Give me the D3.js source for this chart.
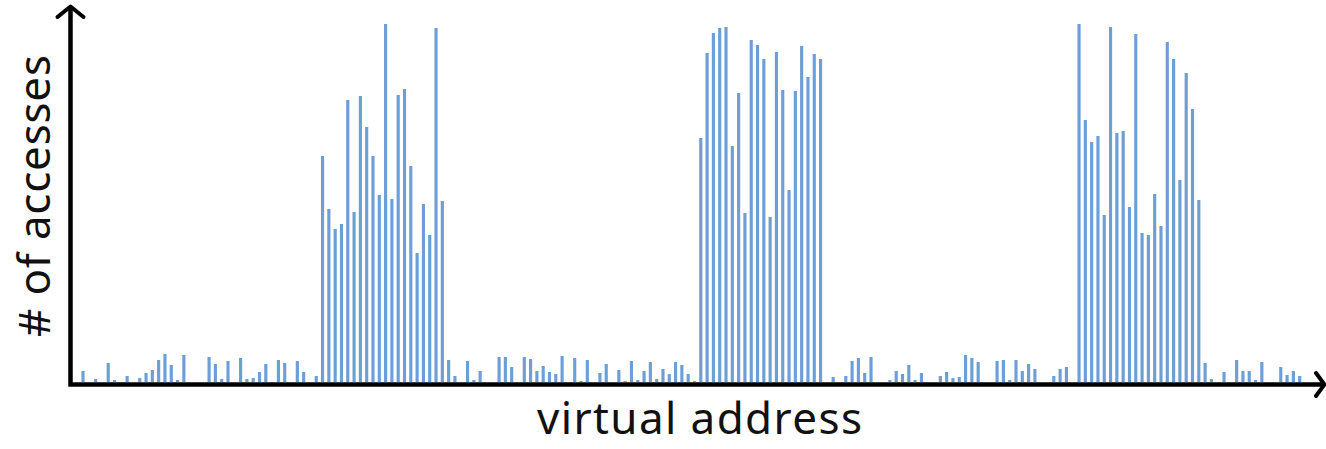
<!DOCTYPE html>
<html lang="en">
<head>
    <meta charset="UTF-8">
    <title>Accesses per virtual address</title>
    <script src="https://cdnjs.cloudflare.com/ajax/libs/d3/7.8.5/d3.min.js"></script>
    <style>
        body { margin: 0; background: #fff; }
        .axis-line { stroke: #000; stroke-width: 4.5; fill: none; stroke-linecap: butt; }
        .arrow { stroke: #000; stroke-width: 4; fill: none; stroke-linecap: round; stroke-linejoin: round; }
        .label { font-family: "Noto Sans", "Open Sans", sans-serif; font-size: 44px; fill: #111; }
    </style>
</head>
<body>
<div id="chart"></div>
<script>
    // access counts per address slot (pixel heights)
    const accesses = [
        11, 0, 3, 0, 19, 2, 0, 6, 0, 4, 9, 12, 22, 28, 17, 2, 27, 0, 0, 0,
        25, 18, 3, 21, 0, 24, 3, 4, 10, 18, 0, 22, 19, 0, 21, 10, 0, 6,
        226, 173, 153, 158, 282, 170, 286, 255, 226, 187, 358, 183, 287, 293, 216, 129, 178, 147, 354, 181,
        22, 6, 0, 21, 2, 11, 0, 0, 25, 25, 15, 0, 25, 23, 11, 16, 10, 8, 26, 0,
        24, 1, 22, 0, 9, 18, 0, 12, 1, 21, 2, 11, 20, 3, 13, 8, 20, 17, 8, 1,
        244, 329, 349, 354, 355, 236, 289, 169, 342, 337, 323, 165, 330, 292, 192, 291, 336, 305, 328, 323,
        0, 5, 0, 6, 21, 24, 9, 25, 0, 0, 2, 11, 8, 17, 2, 9, 0, 0, 6, 10,
        4, 5, 27, 24, 20, 0, 0, 21, 22, 2, 22, 11, 18, 13, 0, 0, 6, 13, 15, 0,
        358, 262, 240, 246, 167, 355, 249, 251, 175, 348, 149, 147, 188, 156, 340, 323, 202, 309, 273, 182,
        19, 3, 0, 10, 0, 22, 11, 11, 2, 20, 0, 0, 15, 7, 11, 6
    ];
    const addresses = d3.range(accesses.length);
    const xTitle = "virtual address";
    const yTitle = "# of accesses";

    const width = 1326, height = 449;
    const originX = 70.5, baseY = 384.5;

    const svg = d3.select("#chart")
        .append("svg")
        .attr("width", width)
        .attr("height", height);

    const x = d3.scaleBand()
        .domain(addresses)
        .range([79.85, 79.85 + 6.304 * addresses.length])
        .paddingInner(0.5)
        .paddingOuter(0.25);

    const y = d3.scaleLinear()
        .domain([0, 360])
        .range([382, 22]);

    // bars
    svg.selectAll(".bar")
        .data(addresses)
        .enter()
        .append("rect")
        .attr("class", "bar")
        .attr("x", d => x(d))
        .attr("width", x.bandwidth())
        .attr("y", d => y(accesses[d]))
        .attr("height", d => y(0) - y(accesses[d]))
        .attr("fill", "#6c9fd8");

    // axes with arrow heads
    svg.append("path")
        .attr("class", "axis-line")
        .attr("d", `M${originX},${baseY + 2.25}V7 M${originX - 2.25},${baseY}H1324`);

    svg.append("path")
        .attr("class", "arrow")
        .attr("d", `M${originX - 13},17 L${originX},6.5 L${originX + 13},17`);

    svg.append("path")
        .attr("class", "arrow")
        .attr("d", `M1316,373 L1324.5,${baseY} L1316,396`);

    // titles (stretched to the width they take in the original)
    svg.append("text")
        .attr("class", "label")
        .attr("x", 699.5)
        .attr("y", 434)
        .attr("text-anchor", "middle")
        .attr("textLength", 325)
        .attr("lengthAdjust", "spacing")
        .text(xTitle);

    svg.append("text")
        .attr("class", "label")
        .attr("transform", "translate(50,196) rotate(-90)")
        .attr("text-anchor", "middle")
        .attr("textLength", 282)
        .attr("lengthAdjust", "spacing")
        .text(yTitle);
</script>
</body>
</html>
